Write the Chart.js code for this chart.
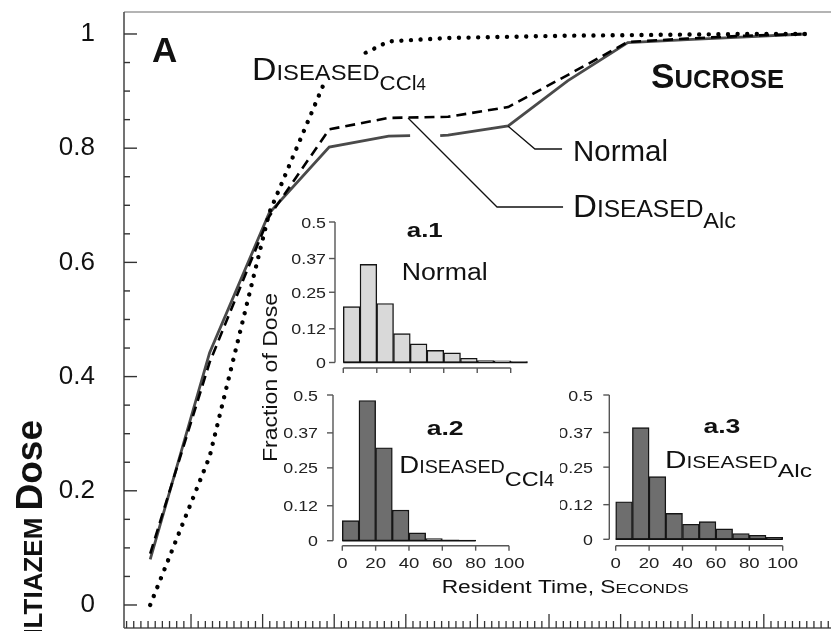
<!DOCTYPE html>
<html>
<head>
<meta charset="utf-8">
<script src="https://cdn.jsdelivr.net/npm/chart.js@4.4.1/dist/chart.umd.min.js"></script>
<style>
  html, body { margin: 0; padding: 0; background: #fff; overflow: hidden; width: 831px; height: 631px; }
  canvas { position: absolute; }
</style>
</head>
<body>
<canvas id="mainChart" width="900" height="640" style="left:0;top:0"></canvas>
<script>
// cumulative dose leaving the liver (x: 10 units per major tick)
const sampleTime = [4.3, 12.6, 20.9, 29.3, 37.6, 45.9, 54.3, 62.6, 71.0, 79.3, 87.6, 95.8];
const doseNormal = [0.08, 0.442, 0.686, 0.802, 0.821, 0.823, 0.839, 0.918, 0.985, 0.99, 0.995, 1.0];
const doseAlc = [0.09, 0.425, 0.68, 0.833, 0.853, 0.855, 0.872, 0.928, 0.986, 0.992, 0.997, 1.0];
const doseCCl4 = [0.0, 0.26, 0.686, 0.935, 0.987, 0.993, 0.995, 0.997, 0.998, 0.999, 1.0, 1.0];
// the Normal curve is broken where the DISEASED_Alc leader crosses it
const normalBreakTime = [40.6, 44.8];
const normalBreakDose = [0.822, 0.822];
const doseTicks = [0, 0.2, 0.4, 0.6, 0.8, 1];

// resident time histograms, 10 s bins
const binWidth = 10;
const histNormal = [0.199, 0.349, 0.210, 0.103, 0.066, 0.043, 0.034, 0.015, 0.007, 0.006, 0.003];
const histCCl4 = [0.069, 0.481, 0.319, 0.105, 0.027, 0.007, 0.003, 0.002];
const histAlc = [0.130, 0.387, 0.217, 0.090, 0.052, 0.061, 0.036, 0.020, 0.014, 0.007];
const fractionTicks = [0, 0.12, 0.25, 0.37, 0.5];
const residentTicks = [0, 20, 40, 60, 80, 100];

const FONT = '"Liberation Sans", Arial, sans-serif';

function R(text, size, bold = false, dy = 0) { return { text, size, bold, dy }; }
function runFont(r) { return `${r.bold ? 'bold ' : ''}${r.size}px ${FONT}`; }

// draws a row of text runs (small caps, subscripts), optionally squeezed/stretched to a width
function drawRuns(ctx, runs, x, y, o = {}) {
  const widths = runs.map(r => { ctx.font = runFont(r); return ctx.measureText(r.text).width; });
  const natural = widths.reduce((s, w) => s + w, 0);
  const sx = o.width ? o.width / natural : (o.sx || 1);
  const top0 = -Math.max(...runs.filter(r => !r.dy).map(r => r.size)) * 0.76;
  ctx.save();
  ctx.translate(x, y);
  if (o.angle) ctx.rotate(o.angle);
  ctx.scale(sx, 1);
  let cx = o.align === 'right' ? -natural : o.align === 'center' ? -natural / 2 : 0;
  ctx.textAlign = 'left';
  ctx.textBaseline = o.baseline || 'alphabetic';
  runs.forEach((r, i) => {
    ctx.font = runFont(r);
    if (o.bg) {
      const top = r.dy ? r.dy - r.size * 0.76 : top0;
      ctx.fillStyle = '#fff';
      ctx.fillRect(cx - 1, top - 1, widths[i] + 2, (r.dy || 0) - top + 4);
    }
    ctx.fillStyle = o.color || '#111';
    ctx.fillText(r.text, cx, r.dy);
    cx += widths[i];
  });
  ctx.restore();
}

function stroke(ctx, pts, color, width) {
  ctx.beginPath();
  ctx.strokeStyle = color;
  ctx.lineWidth = width;
  ctx.lineCap = 'butt';
  pts.forEach(([px, py], i) => (i ? ctx.lineTo(px, py) : ctx.moveTo(px, py)));
  ctx.stroke();
}

const pairs = (xs, ys) => xs.map((x, i) => ({ x, y: ys[i] }));

const normalPoints = [
  ...pairs(sampleTime, doseNormal).filter(p => p.x < normalBreakTime[0]),
  { x: normalBreakTime[0], y: normalBreakDose[0] },
  { x: (normalBreakTime[0] + normalBreakTime[1]) / 2, y: null },
  { x: normalBreakTime[1], y: normalBreakDose[1] },
  ...pairs(sampleTime, doseNormal).filter(p => p.x > normalBreakTime[1])
];

// leader lines and curve labels, in data units
const leaders = [
  { time: [54.25, 58.03, 61.82], dose: [0.839, 0.7986, 0.7986] },
  { time: [40.31, 52.74, 61.96], dose: [0.853, 0.697, 0.697] }
];
const curveLabels = [
  { runs: [R('A', 35, true)], at: [4.55, 0.951] },
  { runs: [R('S', 35, true), R('UCROSE', 25.5, true)], at: [74.25, 0.9054], width: 133 },
  { runs: [R('D', 32), R('ISEASED', 22.5), R('CCl', 21, false, 10), R('4', 16, false, 10)], at: [18.52, 0.9194], width: 174, bg: true },
  { runs: [R('Normal', 29)], at: [63.35, 0.7776], width: 95 },
  { runs: [R('D', 31), R('ISEASED', 23), R('Alc', 22, false, 11)], at: [63.35, 0.6795], width: 163 }
];

const mainDecor = {
  id: 'mainDecor',
  afterDatasetsDraw(chart) {
    const { ctx, chartArea: a, scales: { x, y } } = chart;
    ctx.save();
    stroke(ctx, [[a.left, a.top], [a.right + 40, a.top]], '#9b9b9b', 1.6);
    stroke(ctx, [[a.left, a.top], [a.left, a.bottom]], '#505050', 1.6);
    stroke(ctx, [[a.left, a.bottom], [a.right, a.bottom]], '#505050', 1.6);
    // inward ticks, minor every 0.05 on dose and every unit on time
    for (let k = 0; k <= 20; k++) {
      const py = y.getPixelForValue(k * 0.05);
      stroke(ctx, [[a.left, py], [a.left + (k % 4 === 0 ? 13 : 6), py]], '#333', 1.4);
    }
    for (let v = Math.ceil(x.min); v <= x.max; v++) {
      const px = x.getPixelForValue(v);
      stroke(ctx, [[px, a.bottom], [px, a.bottom - (v % 10 === 0 ? 14 : 7)]], '#333', 1.3);
    }
    leaders.forEach(l => stroke(ctx, l.time.map((t, i) => [x.getPixelForValue(t), y.getPixelForValue(l.dose[i])]), '#111', 1.3));
    curveLabels.forEach(l => drawRuns(ctx, l.runs, x.getPixelForValue(l.at[0]), y.getPixelForValue(l.at[1]), l));
    // y axis title
    drawRuns(ctx, [R('D', 37, true), R('ILTIAZEM ', 26, true), R('Dose', 37, true)],
      a.left - 82, y.getPixelForValue(0.324), { angle: -Math.PI / 2, align: 'right' });
    ctx.restore();
  }
};

new Chart(document.getElementById('mainChart'), {
  type: 'line',
  data: {
    datasets: [
      { label: 'Diseased CCl4', data: pairs(sampleTime, doseCCl4), borderColor: '#000', borderWidth: 4.4, borderDash: [0.01, 9.6], borderCapStyle: 'round' },
      { label: 'Diseased Alc', data: pairs(sampleTime, doseAlc), borderColor: '#000', borderWidth: 2.6, borderDash: [10, 6] },
      { label: 'Normal', data: normalPoints, borderColor: '#4a4a4a', borderWidth: 2.8 }
    ]
  },
  options: {
    responsive: false,
    animation: false,
    events: [],
    devicePixelRatio: 1,
    layout: { padding: { top: 12, bottom: 12, right: 30, left: 0 } },
    elements: { point: { radius: 0 }, line: { tension: 0, fill: false } },
    spanGaps: false,
    plugins: { legend: { display: false }, tooltip: { enabled: false } },
    scales: {
      x: { type: 'linear', display: false, min: 0.64, max: 104.83 },
      y: {
        type: 'linear', min: -0.0403, max: 1.0385,
        afterBuildTicks: s => { s.ticks = doseTicks.map(v => ({ value: v })); },
        afterFit: s => { s.width = 124; s.paddingTop = 0; s.paddingBottom = 0; },
        ticks: { padding: 21, color: '#111', font: { family: FONT, size: 26 }, callback: v => String(v) },
        grid: { display: false },
        border: { display: false }
      }
    }
  },
  plugins: [mainDecor]
});

// inset histograms; text positions in each inset's own data units
const insets = [
  {
    values: histNormal, fill: '#d9d9d9', box: [280, 205, 260, 175],
    x0: 343.3, secPx: 1.674, y0: 362.5, unitPx: 281, axisGap: 8.3, axisDrop: 5.5, labelRight: 326, xLabels: false,
    texts: [
      { runs: [R('a.1', 20.5, true)], at: [37.9, 0.4466], width: 36 },
      { runs: [R('Normal', 23)], at: [34.9, 0.2936], width: 86 }
    ]
  },
  {
    values: histCCl4, fill: '#6e6e6e', box: [240, 285, 460, 320],
    x0: 342.3, secPx: 1.667, y0: 540.7, unitPx: 291.4, axisGap: 9.3, axisDrop: 5, labelRight: 318, xLabels: true,
    texts: [
      { runs: [R('a.2', 19.5, true)], at: [50.6, 0.3627], width: 37 },
      { runs: [R('D', 24.7), R('ISEASED', 17.7), R('CCl', 21, false, 13.3), R('4', 16, false, 13.3)], at: [34.2, 0.2327], width: 154.5 },
      { runs: [R('Fraction of Dose', 20.5)], at: [-39.2, 0.56], width: 169, angle: -Math.PI / 2, align: 'center' },
      { runs: [R('Resident Time, S', 18), R('ECONDS', 13.5)], at: [59.6, -0.1795], width: 247 }
    ]
  },
  {
    values: histAlc, fill: '#6e6e6e', box: [560, 385, 271, 200],
    x0: 615.7, secPx: 1.67, y0: 539.3, unitPx: 288.6, axisGap: 6.4, axisDrop: 6.4, labelRight: 593, xLabels: true,
    texts: [
      { runs: [R('a.3', 19.5, true)], at: [52.5, 0.3673], width: 37 },
      { runs: [R('D', 23), R('ISEASED', 16.3), R('Alc', 19, false, 8.4)], at: [29.5, 0.246], width: 147 }
    ]
  }
];

function insetDecor(cfg) {
  return {
    id: 'insetDecor',
    afterDraw(chart) {
      const { ctx, scales: { x, y } } = chart;
      const ax = x.getPixelForValue(0) - cfg.axisGap;
      const ay = y.getPixelForValue(0) + cfg.axisDrop;
      const labelDx = cfg.labelRight - (cfg.x0 - cfg.axisGap);
      ctx.save();
      // baseline under the bars
      stroke(ctx, [[x.getPixelForValue(0), y.getPixelForValue(0)], [x.getPixelForValue(cfg.values.length * binWidth), y.getPixelForValue(0)]], '#111', 1.6);
      // y axis
      stroke(ctx, [[ax, y.getPixelForValue(0)], [ax, y.getPixelForValue(fractionTicks[fractionTicks.length - 1])]], '#555', 1.4);
      y.ticks.forEach(t => {
        const py = y.getPixelForValue(t.value);
        stroke(ctx, [[ax - 6, py], [ax, py]], '#555', 1.4);
        drawRuns(ctx, [R(t.label ?? String(t.value), 15.5)], ax + labelDx, py + 5.5, { align: 'right', sx: 1.15, color: '#222' });
      });
      // x axis
      stroke(ctx, [[x.getPixelForValue(residentTicks[0]), ay], [x.getPixelForValue(residentTicks[residentTicks.length - 1]), ay]], '#555', 1.4);
      x.ticks.forEach(t => {
        const px = x.getPixelForValue(t.value);
        stroke(ctx, [[px, ay], [px, ay + 5]], '#555', 1.4);
        if (cfg.xLabels) drawRuns(ctx, [R(t.label ?? String(t.value), 15.5)], px, ay + 22.5, { align: 'center', sx: 1.2, color: '#222' });
      });
      cfg.texts.forEach(tx => drawRuns(ctx, tx.runs, x.getPixelForValue(tx.at[0]), y.getPixelForValue(tx.at[1]), tx));
      ctx.restore();
    }
  };
}

insets.forEach(cfg => {
  const [L, T, W, H] = cfg.box;
  const canvas = document.createElement('canvas');
  canvas.width = W;
  canvas.height = H;
  canvas.style.left = L + 'px';
  canvas.style.top = T + 'px';
  document.body.appendChild(canvas);
  new Chart(canvas, {
    type: 'bar',
    data: {
      datasets: [{
        data: cfg.values.map((v, i) => ({ x: (i + 0.5) * binWidth, y: v })),
        backgroundColor: cfg.fill,
        borderColor: '#151515',
        borderWidth: 1.4,
        borderSkipped: false,
        barPercentage: 1,
        categoryPercentage: 1
      }]
    },
    options: {
      responsive: false,
      animation: false,
      events: [],
      devicePixelRatio: 1,
      layout: { padding: 0 },
      plugins: { legend: { display: false }, tooltip: { enabled: false } },
      scales: {
        x: {
          type: 'linear', display: false, offset: false,
          min: (L - cfg.x0) / cfg.secPx, max: (L + W - cfg.x0) / cfg.secPx,
          afterBuildTicks: s => { s.ticks = residentTicks.map(v => ({ value: v })); },
          ticks: { callback: v => String(v) }
        },
        y: {
          type: 'linear', display: false,
          min: (cfg.y0 - (T + H)) / cfg.unitPx, max: (cfg.y0 - T) / cfg.unitPx,
          afterBuildTicks: s => { s.ticks = fractionTicks.map(v => ({ value: v })); },
          ticks: { callback: v => String(v) }
        }
      }
    },
    plugins: [insetDecor(cfg)]
  });
});
</script>
</body>
</html>
